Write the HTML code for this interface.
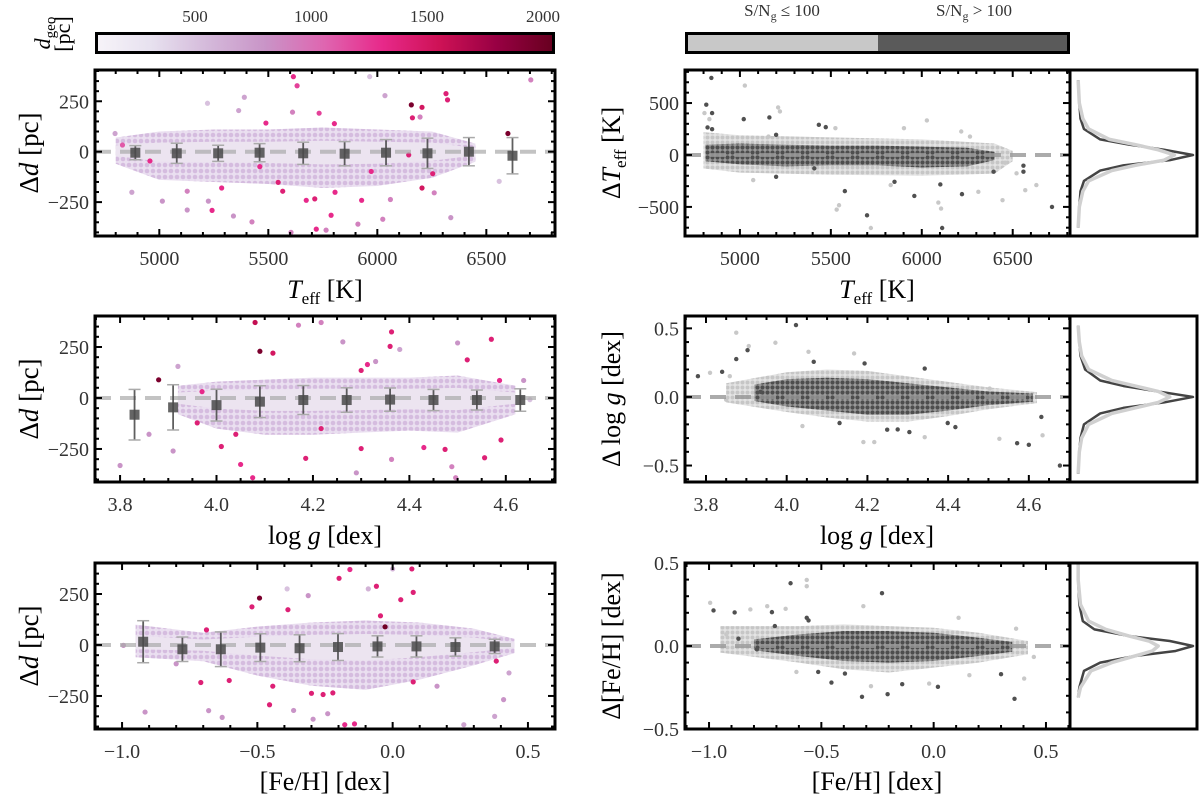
<!DOCTYPE html>
<html><head><meta charset="utf-8"><style>
html,body{margin:0;padding:0;background:#fff;}
svg{display:block;font-family:"Liberation Serif",serif;}
</style></head><body>
<svg id="fig" width="1200" height="797" viewBox="0 0 1200 797" xmlns="http://www.w3.org/2000/svg">
<defs>
<linearGradient id="cmap" x1="0" x2="1" y1="0" y2="0">
<stop offset="0" stop-color="#f7f4f9"/><stop offset="0.12" stop-color="#e7e1ef"/><stop offset="0.245" stop-color="#d4b9da"/><stop offset="0.37" stop-color="#c994c7"/><stop offset="0.5" stop-color="#df65b0"/><stop offset="0.625" stop-color="#e7298a"/><stop offset="0.75" stop-color="#ce1256"/><stop offset="0.875" stop-color="#980043"/><stop offset="1" stop-color="#67001f"/>
</linearGradient>
<pattern id="dotsPurple" width="6" height="6" patternUnits="userSpaceOnUse"><rect width="6" height="6" fill="#eadff0"/><circle cx="3" cy="3" r="2.3" fill="#d5bcdf"/></pattern>
<pattern id="dotsLight" width="5" height="5" patternUnits="userSpaceOnUse"><rect width="5" height="5" fill="#e4e4e4"/><circle cx="2.5" cy="2.5" r="2" fill="#c6c6c6"/></pattern>
<pattern id="dotsDark" width="5" height="5" patternUnits="userSpaceOnUse"><rect width="5" height="5" fill="#9a9a9a"/><circle cx="2.5" cy="2.5" r="2.1" fill="#4e4e4e"/></pattern>
</defs>
<g>
<rect x="96.5" y="33.5" width="457" height="19" fill="url(#cmap)" stroke="#000" stroke-width="3"/>
<text x="195" y="22" font-size="17" fill="#333" text-anchor="middle">500</text>
<text x="311" y="22" font-size="17" fill="#333" text-anchor="middle">1000</text>
<text x="427" y="22" font-size="17" fill="#333" text-anchor="middle">1500</text>
<text x="543" y="22" font-size="17" fill="#333" text-anchor="middle">2000</text>
<text transform="translate(50,33) rotate(-90)" font-size="22" text-anchor="middle"><tspan font-style="italic">d</tspan><tspan font-size="15" dy="5">geo</tspan></text>
<text transform="translate(70,34) rotate(-90)" font-size="22" text-anchor="middle">[pc]</text>
</g>
<g>
<rect x="686.5" y="33.5" width="192" height="19" fill="#c8c8c8"/>
<rect x="878" y="33.5" width="190.5" height="19" fill="#5a5a5a"/>
<rect x="686.5" y="33.5" width="382" height="19" fill="none" stroke="#000" stroke-width="3"/>
<text x="782" y="16" font-size="17" fill="#333" text-anchor="middle">S/N<tspan font-size="12" dy="4">g</tspan><tspan dy="-4"> ≤ 100</tspan></text>
<text x="974" y="16" font-size="17" fill="#333" text-anchor="middle">S/N<tspan font-size="12" dy="4">g</tspan><tspan dy="-4"> &gt; 100</tspan></text>
</g>
<text x="325" y="298" font-size="26" text-anchor="middle"><tspan font-style="italic">T</tspan><tspan font-size="17" dy="6">eff</tspan><tspan dy="-6"> [K]</tspan></text>
<text x="877" y="298" font-size="26" text-anchor="middle"><tspan font-style="italic">T</tspan><tspan font-size="17" dy="6">eff</tspan><tspan dy="-6"> [K]</tspan></text>
<text x="325" y="544" font-size="26" text-anchor="middle">log <tspan font-style="italic">g</tspan> [dex]</text>
<text x="877" y="544" font-size="26" text-anchor="middle">log <tspan font-style="italic">g</tspan> [dex]</text>
<text x="325" y="790" font-size="26" text-anchor="middle">[Fe/H] [dex]</text>
<text x="877" y="790" font-size="26" text-anchor="middle">[Fe/H] [dex]</text>
<text transform="translate(38,153) rotate(-90)" font-size="27" text-anchor="middle">Δ<tspan font-style="italic">d</tspan> [pc]</text>
<text transform="translate(38,399) rotate(-90)" font-size="27" text-anchor="middle">Δ<tspan font-style="italic">d</tspan> [pc]</text>
<text transform="translate(38,646) rotate(-90)" font-size="27" text-anchor="middle">Δ<tspan font-style="italic">d</tspan> [pc]</text>
<text transform="translate(620,153) rotate(-90)" font-size="26" text-anchor="middle">Δ<tspan font-style="italic">T</tspan><tspan font-size="17" dy="6">eff</tspan><tspan dy="-6"> [K]</tspan></text>
<text transform="translate(620,399) rotate(-90)" font-size="26" text-anchor="middle">Δ log <tspan font-style="italic">g</tspan> [dex]</text>
<text transform="translate(620,646) rotate(-90)" font-size="26" text-anchor="middle">Δ[Fe/H] [dex]</text>
<g id="plots"></g>
</svg>
<script>
// ---------- data ----------
const aBinX=[4890,5080,5270,5460,5660,5850,6040,6230,6420,6620];
const aBinMean=[-5,-8,-8,-5,-8,-10,-5,-8,0,-20];
const aBinErr=[35,50,40,45,55,60,65,75,70,90];
const aBandX=[4800,5000,5250,5500,5750,6000,6250,6450];
const aBandUp=[70,100,110,110,120,110,100,40];
const aBandLo=[-60,-140,-150,-160,-180,-170,-130,-50];
const aPts=[[6704,356,900],[5615,372,1300],[5632,327,1200],[6156,232,1950],[6205,220,1500],[6315,288,1400],[6322,257,1400],[5221,240,500],[5390,270,700],[5364,204,700],[5611,196,900],[5733,191,1200],[5965,372,500],[6035,278,700],[5803,139,1300],[5489,142,1300],[6161,168,1400],[6599,90,1950],[6144,-16,1400],[6205,-180,1500],[6254,-109,1400],[6337,-327,800],[5242,-291,1300],[5286,-180,1300],[5128,-196,900],[5225,-245,800],[5014,-245,800],[4874,-201,700],[5604,-400,900],[5720,-384,1300],[5765,-389,900],[5713,-234,1400],[5674,-241,1300],[5788,-315,1300],[5911,-359,900],[6025,-335,900],[5928,-241,1300],[5972,-98,1300],[5545,-152,1400],[5566,-196,1400],[5128,-289,800],[5340,-319,800],[5425,-348,900],[5806,-201,1300],[6060,-237,900],[6261,-204,900],[6559,-147,500],[4831,33,1100],[4957,-46,1300],[5461,-74,1300],[6196,172,900],[4797,90,700]];
const bBinX=[3.83,3.91,4.00,4.09,4.18,4.27,4.36,4.45,4.54,4.63];
const bBinMean=[-82,-46,-35,-18,-10,-10,-8,-10,-10,-10];
const bBinErr=[124,111,78,78,71,60,57,52,49,55];
const bBandX=[3.92,4.0,4.1,4.2,4.3,4.4,4.5,4.62];
const bBandUp=[60,80,90,100,100,100,110,60];
const bBandLo=[-80,-150,-180,-180,-170,-160,-170,-80];
const bPts=[[4.08,370,1600],[4.075,-391,1300],[4.09,229,1950],[4.117,220,1500],[3.88,89,1950],[3.80,-331,800],[4.17,357,900],[4.217,370,900],[4.262,275,800],[4.363,324,1400],[4.36,253,1400],[4.30,135,1400],[4.313,164,1300],[4.57,288,1400],[4.50,270,800],[4.52,187,1400],[4.587,86,1300],[4.59,-206,1400],[4.556,-293,1400],[4.474,-252,1400],[4.488,-337,900],[4.496,-391,900],[4.43,-243,1300],[4.30,-248,1400],[4.29,-367,800],[4.363,-301,900],[4.185,-296,1400],[4.217,-150,1400],[4.05,-326,1300],[4.04,-178,1400],[4.01,-238,1400],[3.96,-122,1400],[3.91,-260,800],[3.86,-178,800],[3.92,155,700],[3.97,31,1300],[4.637,86,800],[4.65,-8,500],[4.33,179,800],[4.38,238,700]];
const cBinX=[-0.922,-0.777,-0.635,-0.489,-0.344,-0.202,-0.056,0.088,0.232,0.377];
const cBinMean=[16,-21,-21,-13,-16,-10,-7,-7,-10,-7];
const cBinErr=[103,60,85,68,66,66,52,52,45,35];
const cBandX=[-0.95,-0.7,-0.5,-0.3,-0.1,0.1,0.3,0.45];
const cBandUp=[100,60,90,110,120,110,80,30];
const cBandLo=[-60,-80,-150,-200,-220,-170,-100,-40];
const cPts=[[-0.492,230,1950],[-0.52,187,1400],[-0.158,370,1300],[-0.198,327,1400],[0.071,373,1400],[0.076,258,1400],[-0.06,288,1400],[0.03,222,1400],[-0.028,89,2000],[-0.045,143,1400],[-0.387,173,1400],[-0.688,74,1400],[-0.709,-184,1400],[-0.604,-174,1400],[-0.443,-202,1400],[-0.455,-293,1400],[-0.30,-237,1400],[-0.257,-243,1400],[-0.221,-235,1400],[-0.177,-391,1300],[-0.141,-387,1300],[0.076,-181,1400],[0.383,-79,1400],[-0.915,-329,800],[-0.63,-355,800],[-0.294,-364,800],[-0.24,-337,800],[-0.366,-321,800],[-0.68,-322,800],[0.263,-391,700],[0.377,-350,700],[0.43,-137,700],[0.41,-268,800],[-0.80,-92,800],[-0.995,-2,800],[0.164,-202,800],[-0.312,242,800],[-0.39,275,500],[-0.09,275,600],[0.0,373,600]];
const dDarkBandX=[4810,5000,5250,5500,5750,6000,6250,6400];
const dDarkBandUp=[100,110,100,90,90,80,70,30];
const dDarkBandLo=[-60,-90,-110,-100,-100,-120,-110,-50];
const dLightBandX=[4800,5000,5500,6000,6400,6500];
const dLightBandUp=[220,190,170,150,110,40];
const dLightBandLo=[-130,-170,-190,-200,-180,-60];
const dDarkPts=[[4843,742],[4815,484],[4847,403],[4822,265],[4847,248],[5021,345],[5162,361],[5434,290],[5472,268],[5199,194],[5577,-348],[5699,-581],[5959,-394],[6112,-703],[6102,-284],[6221,-377],[6559,-103],[6559,-161],[6716,-500],[5199,-210],[5850,-258],[5409,-129],[6395,-161]];
const dLightPts=[[5027,668],[5210,458],[5220,419],[4832,345],[4805,403],[5545,-484],[5532,-526],[5720,-703],[6091,-458],[6106,-516],[6444,-435],[6569,-339],[6630,-290],[6521,-177],[6458,-74],[5157,177],[5525,258],[5902,258],[6028,332],[6217,226],[6265,177],[5073,-242],[5829,-290],[6311,-355]];
const h1Y=[-700,-500,-350,-250,-150,-100,-50,0,50,100,150,250,350,500,720];
const h1Dark=[0.01,0.02,0.03,0.06,0.2,0.4,0.8,1.0,0.75,0.45,0.2,0.06,0.03,0.02,0.01];
const h1Light=[0.01,0.02,0.05,0.1,0.3,0.5,0.75,0.84,0.7,0.5,0.28,0.1,0.05,0.02,0.01];
const eDarkBandX=[3.92,4.0,4.1,4.2,4.3,4.4,4.5,4.61];
const eDarkBandUp=[0.09,0.13,0.14,0.13,0.1,0.07,0.04,0.025];
const eDarkBandLo=[-0.03,-0.07,-0.1,-0.13,-0.13,-0.1,-0.06,-0.035];
const eLightBandX=[3.85,4.0,4.1,4.2,4.3,4.4,4.5,4.62];
const eLightBandUp=[0.1,0.18,0.2,0.19,0.15,0.11,0.07,0.035];
const eLightBandLo=[-0.04,-0.11,-0.15,-0.18,-0.18,-0.14,-0.09,-0.045];
const eDarkPts=[[4.023,0.524],[3.903,0.341],[3.875,0.276],[3.78,0.151],[3.84,0.183],[4.677,-0.5],[4.631,-0.146],[4.571,-0.337],[4.60,-0.349],[4.249,-0.239],[4.275,-0.237],[4.304,-0.256],[4.131,-0.19],[4.399,-0.19],[4.418,-0.22],[4.342,0.207],[4.193,0.244],[4.067,0.256],[3.935,0.037]];
const eLightPts=[[3.875,0.468],[3.972,0.395],[3.906,0.371],[3.81,0.176],[3.859,0.151],[3.85,-0.02],[4.19,-0.329],[4.217,-0.329],[4.527,-0.305],[4.634,-0.28],[4.039,-0.212],[4.054,0.329],[4.167,0.317],[4.342,-0.293],[4.503,0.061]];
const h2Y=[-0.56,-0.4,-0.3,-0.2,-0.12,-0.08,-0.04,0,0.04,0.08,0.12,0.2,0.3,0.4,0.52];
const h2Dark=[0.01,0.02,0.03,0.06,0.2,0.4,0.75,1.0,0.7,0.4,0.2,0.07,0.03,0.02,0.01];
const h2Light=[0.01,0.02,0.04,0.1,0.3,0.5,0.7,0.8,0.7,0.5,0.3,0.1,0.04,0.02,0.01];
const fDarkBandX=[-0.8,-0.6,-0.4,-0.2,0,0.2,0.35];
const fDarkBandUp=[0.04,0.07,0.09,0.09,0.08,0.05,0.025];
const fDarkBandLo=[-0.025,-0.06,-0.09,-0.1,-0.09,-0.06,-0.035];
const fLightBandX=[-0.95,-0.6,-0.4,-0.2,0,0.2,0.42];
const fLightBandUp=[0.12,0.12,0.13,0.12,0.11,0.08,0.03];
const fLightBandLo=[-0.04,-0.1,-0.14,-0.16,-0.13,-0.1,-0.05];
const fDarkPts=[[-0.637,0.378],[-0.23,0.318],[-0.98,0.214],[-0.886,0.202],[-0.869,0.044],[-0.787,-0.02],[-0.72,0.204],[-0.707,0.12],[-0.565,0.17],[-0.557,0.154],[-0.455,-0.22],[-0.319,-0.306],[-0.205,-0.29],[-0.14,-0.23],[0.019,-0.246],[0.36,-0.318],[0.3,-0.17],[-0.514,-0.156],[-0.395,-0.166]];
const fLightPts=[[-0.565,0.398],[-0.565,0.36],[-0.995,0.26],[-0.923,0.07],[-0.816,0.22],[-0.741,0.24],[-0.659,0.224],[-0.313,0.24],[0.111,0.17],[0.367,0.104],[0.403,-0.196],[0.446,-0.066],[-0.611,-0.156],[-0.279,-0.242],[-0.02,-0.226],[0.159,-0.176]];
const h3Y=[-0.31,-0.25,-0.15,-0.1,-0.06,-0.03,0,0.03,0.06,0.1,0.15,0.25,0.4,0.5];
const h3Dark=[0.01,0.02,0.06,0.2,0.5,0.85,1.0,0.8,0.45,0.15,0.05,0.02,0.01,0.01];
const h3Light=[0.01,0.03,0.12,0.3,0.5,0.65,0.7,0.62,0.45,0.25,0.1,0.03,0.01,0.01];

// ---------- rendering ----------
const NS="http://www.w3.org/2000/svg";
const root=document.getElementById('plots');
function el(tag,attrs,parent){const e=document.createElementNS(NS,tag);for(const k in attrs)e.setAttribute(k,attrs[k]);(parent||root).appendChild(e);return e;}
const cStops=[[70,[247,244,249]],[300,[231,225,239]],[550,[212,185,218]],[800,[201,148,199]],[1050,[223,101,176]],[1300,[231,41,138]],[1550,[206,18,86]],[1800,[152,0,67]],[2050,[103,0,31]]];
function cmap(v){if(v<=cStops[0][0])return 'rgb('+cStops[0][1]+')';for(let i=1;i<cStops.length;i++){if(v<=cStops[i][0]){const t=(v-cStops[i-1][0])/(cStops[i][0]-cStops[i-1][0]);const a=cStops[i-1][1],b=cStops[i][1];return 'rgb('+a.map((x,j)=>Math.round(x+(b[j]-x)*t)).join(',')+')';}}return 'rgb(103,0,31)';}
function fmt(v,dec){if(Math.abs(v)<1e-9)v=0;let s=v.toFixed(dec);if(v<0)s='\u2212'+s.slice(1);return s;}
function makeAxes(cfg){
  const sx=v=>cfg.x0+(v-cfg.xmin)/(cfg.xmax-cfg.xmin)*(cfg.x1-cfg.x0);
  const sy=v=>cfg.y1-(v-cfg.ymin)/(cfg.ymax-cfg.ymin)*(cfg.y1-cfg.y0);
  return {sx,sy};
}
function drawFrame(g,cfg,ax){
  const eps=1e-9;
  for(let k=Math.ceil(cfg.xmin/cfg.xminor-eps);k*cfg.xminor<=cfg.xmax+eps;k++){
    const v=k*cfg.xminor;
    const major=Math.abs(v/cfg.xmajor-Math.round(v/cfg.xmajor))<1e-6;const L=major?7:4;const x=ax.sx(v);
    el('line',{x1:x,x2:x,y1:cfg.y1,y2:cfg.y1-L,stroke:'#000','stroke-width':2},g);
    el('line',{x1:x,x2:x,y1:cfg.y0,y2:cfg.y0+L,stroke:'#000','stroke-width':2},g);
    if(major){const t=el('text',{x:x,y:cfg.y1+29,'font-size':20,fill:'#333','text-anchor':'middle'},g);t.textContent=fmt(v,cfg.xdec);}
  }
  for(let k=Math.ceil(cfg.ymin/cfg.yminor-eps);k*cfg.yminor<=cfg.ymax+eps;k++){
    const v=k*cfg.yminor;
    const major=Math.abs(v/cfg.ymajor-Math.round(v/cfg.ymajor))<1e-6;const L=major?7:4;const y=ax.sy(v);
    el('line',{x1:cfg.x0,x2:cfg.x0+L,y1:y,y2:y,stroke:'#000','stroke-width':2},g);
    el('line',{x1:cfg.x1,x2:cfg.x1-L,y1:y,y2:y,stroke:'#000','stroke-width':2},g);
    if(major){const t=el('text',{x:cfg.x0-6,y:y+7,'font-size':20,fill:'#333','text-anchor':'end'},g);t.textContent=fmt(v,cfg.ydec);}
  }
  el('rect',{x:cfg.x0,y:cfg.y0,width:cfg.x1-cfg.x0,height:cfg.y1-cfg.y0,fill:'none',stroke:'#000','stroke-width':3},g);
}
function band(g,ax,xs,up,lo,fill,name){
  let d='M'+xs.map((x,i)=>ax.sx(x)+','+ax.sy(up[i])).join(' L');
  d+=' L'+xs.slice().reverse().map((x,i)=>ax.sx(x)+','+ax.sy(lo[xs.length-1-i])).join(' L')+' Z';
  const p=el('path',{d:d,fill:fill,'stroke-linejoin':'round'},g);
  
  
}
function zeroLine(g,cfg,ax,color,w){
  const l=el('line',{x1:cfg.x0,x2:cfg.x1,y1:ax.sy(0),y2:ax.sy(0),stroke:color,'stroke-width':w,'stroke-dasharray':'16,9'},g);
  
  
}
function leftPanel(cfg,binX,binMean,binErr,bX,bUp,bLo,pts,name){
  const g=el('g',{});
  
  
  const clip='clip-'+name;const cp=el('clipPath',{id:clip},g);el('rect',{x:cfg.x0,y:cfg.y0,width:cfg.x1-cfg.x0,height:cfg.y1-cfg.y0},cp);
  const ax=makeAxes(cfg);
  const inner=el('g',{'clip-path':'url(#'+clip+')'},g);
  band(inner,ax,bX,bUp,bLo,'url(#dotsPurple)','distance-cloud');
  band(inner,ax,bX,bUp.map(v=>v*0.45),bLo.map(v=>v*0.35),'#ece4f0','distance-cloud-core');
  pts.forEach(p=>{
    const c=el('circle',{cx:ax.sx(p[0]),cy:ax.sy(p[1]),r:2.6,fill:cmap(p[2])},inner);
    
    
  });
  zeroLine(inner,cfg,ax,'rgba(170,170,170,0.7)',4);
  binX.forEach((x,i)=>{
    const X=ax.sx(x),Y=ax.sy(binMean[i]),yt=ax.sy(binMean[i]+binErr[i]),yb=ax.sy(binMean[i]-binErr[i]);
    const eg=el('g',{},inner);
    
    
    el('line',{x1:X,x2:X,y1:yt,y2:yb,stroke:'#444','stroke-width':1.8,opacity:0.85},eg);
    el('line',{x1:X-6,x2:X+6,y1:yt,y2:yt,stroke:'#aaa','stroke-width':1.5},eg);
    el('line',{x1:X-6,x2:X+6,y1:yb,y2:yb,stroke:'#aaa','stroke-width':1.5},eg);
    el('rect',{x:X-5,y:Y-5,width:10,height:10,fill:'#4a4a4a',opacity:0.85},eg);
  });
  drawFrame(g,cfg,ax);
}
function rightPanel(cfg,dbX,dbU,dbL,lbX,lbU,lbL,dPts,lPts,hY,hD,hL,name){
  const g=el('g',{});
  
  
  const clip='clip-'+name;const cp=el('clipPath',{id:clip},g);el('rect',{x:cfg.x0,y:cfg.y0,width:cfg.x1-cfg.x0,height:cfg.y1-cfg.y0},cp);
  const ax=makeAxes(cfg);
  const inner=el('g',{'clip-path':'url(#'+clip+')'},g);
  band(inner,ax,lbX,lbU,lbL,'url(#dotsLight)','low-snr-cloud');
  lPts.forEach(p=>{
    const c=el('circle',{cx:ax.sx(p[0]),cy:ax.sy(p[1]),r:2.2,fill:'#c8c8c8'},inner);
    
    
  });
  band(inner,ax,dbX,dbU,dbL,'url(#dotsDark)','high-snr-cloud');
  dPts.forEach(p=>{
    const c=el('circle',{cx:ax.sx(p[0]),cy:ax.sy(p[1]),r:2.2,fill:'#505050'},inner);
    
    
  });
  zeroLine(inner,cfg,ax,'rgba(150,150,150,0.8)',4);
  drawFrame(g,cfg,ax);
  const hx0=cfg.x1,hx1=1197,base=1077,scale=116;
  const hg=el('g',{},g);
  
  
  const mk=(arr,col,w,nm)=>{
    const d='M'+hY.map((y,i)=>(base+arr[i]*scale)+','+ax.sy(y)).join(' L');
    const p=el('path',{d:d,fill:'none',stroke:col,'stroke-width':w,'stroke-linejoin':'round'},hg);
    
    
  };
  mk(hD,'#444',2.5,'high-snr-distribution');
  mk(hL,'#d0d0d0',3.5,'low-snr-distribution');
  el('rect',{x:hx0,y:cfg.y0,width:hx1-hx0,height:cfg.y1-cfg.y0,fill:'none',stroke:'#000','stroke-width':3},hg);
}
const L={x0:95,x1:555},R={x0:685,x1:1070};
const rows=[{y0:70,y1:236},{y0:316,y1:482},{y0:563,y1:729}];
leftPanel(Object.assign({},L,rows[0],{xmin:4705,xmax:6815,ymin:-418,ymax:405,xmajor:500,xminor:100,xdec:0,ymajor:250,yminor:50,ydec:0}),aBinX,aBinMean,aBinErr,aBandX,aBandUp,aBandLo,aPts,'panel-teff-distance');
leftPanel(Object.assign({},L,rows[1],{xmin:3.748,xmax:4.702,ymin:-412,ymax:402,xmajor:0.2,xminor:0.05,xdec:1,ymajor:250,yminor:50,ydec:0}),bBinX,bBinMean,bBinErr,bBandX,bBandUp,bBandLo,bPts,'panel-logg-distance');
leftPanel(Object.assign({},L,rows[2],{xmin:-1.1,xmax:0.6,ymin:-412,ymax:402,xmajor:0.5,xminor:0.1,xdec:1,ymajor:250,yminor:50,ydec:0}),cBinX,cBinMean,cBinErr,cBandX,cBandUp,cBandLo,cPts,'panel-feh-distance');
rightPanel(Object.assign({},R,rows[0],{xmin:4698,xmax:6815,ymin:-780,ymax:818,xmajor:500,xminor:100,xdec:0,ymajor:500,yminor:100,ydec:0}),dDarkBandX,dDarkBandUp,dDarkBandLo,dLightBandX,dLightBandUp,dLightBandLo,dDarkPts,dLightPts,h1Y,h1Dark,h1Light,'panel-teff-residual');
rightPanel(Object.assign({},R,rows[1],{xmin:3.748,xmax:4.702,ymin:-0.62,ymax:0.59,xmajor:0.2,xminor:0.05,xdec:1,ymajor:0.5,yminor:0.1,ydec:1}),eDarkBandX,eDarkBandUp,eDarkBandLo,eLightBandX,eLightBandUp,eLightBandLo,eDarkPts,eLightPts,h2Y,h2Dark,h2Light,'panel-logg-residual');
rightPanel(Object.assign({},R,rows[2],{xmin:-1.107,xmax:0.607,ymin:-0.5,ymax:0.5,xmajor:0.5,xminor:0.1,xdec:1,ymajor:0.5,yminor:0.1,ydec:1}),fDarkBandX,fDarkBandUp,fDarkBandLo,fLightBandX,fLightBandUp,fLightBandLo,fDarkPts,fLightPts,h3Y,h3Dark,h3Light,'panel-feh-residual');
</script>
</body></html>
